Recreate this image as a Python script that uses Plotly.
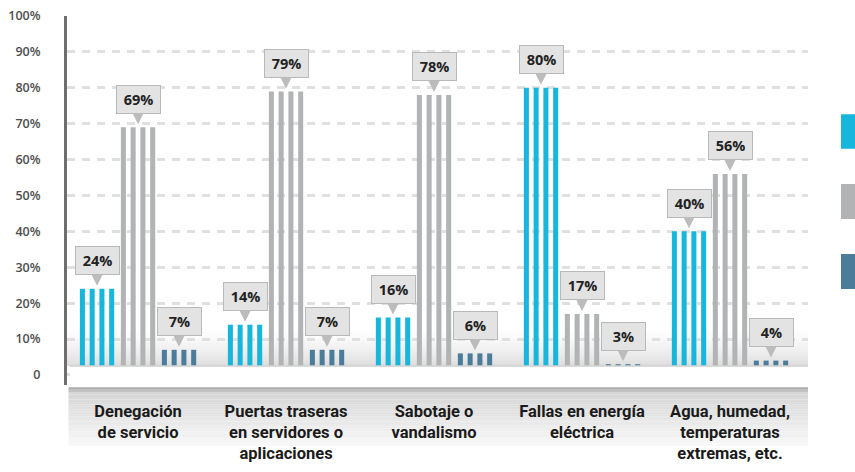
import plotly.graph_objects as go

# ---- data -------------------------------------------------------------
categories = [
    ["Denegación", "de servicio"],
    ["Puertas traseras", "en servidores o", "aplicaciones"],
    ["Sabotaje o", "vandalismo"],
    ["Fallas en energía", "eléctrica"],
    ["Agua, humedad,", "temperaturas", "extremas, etc."],
]
serie_1 = [24, 14, 16, 80, 40]
serie_2 = [69, 79, 78, 17, 56]
serie_3 = [7, 7, 6, 3, 4]

y_ticks = list(range(0, 101, 10))
y_tick_labels = ["0"] + [f"{v}%" for v in y_ticks[1:]]
major_ticks = list(range(20, 101, 20))

# ---- styling ----------------------------------------------------------
series = [serie_1, serie_2, serie_3]
colors = ["#17b6dd", "#b1b3b5", "#4b7d9b"]
cluster_gap = 0.277      # distance between the three clusters of a group
stripe_pitch = 0.066     # distance between the thin stripes of a cluster
stripe_width = 0.034
n_stripes = 4

Y_MIN, Y_MAX = -2.8, 100
FLOOR = 2.5              # bars appear to stand on this level

fig = go.Figure()

for s_idx, (values, color) in enumerate(zip(series, colors)):
    xs, ys = [], []
    for g_idx, v in enumerate(values):
        center = g_idx + (s_idx - 1) * cluster_gap
        for k in range(n_stripes):
            xs.append(center + (k - (n_stripes - 1) / 2) * stripe_pitch)
            ys.append(v)
    fig.add_trace(go.Bar(
        x=xs, y=ys, width=stripe_width,
        marker=dict(color=color, line=dict(width=0)),
        showlegend=False, hoverinfo="y",
    ))

# value callouts above every cluster
annotations = []
for s_idx, values in enumerate(series):
    for g_idx, v in enumerate(values):
        annotations.append(dict(
            x=g_idx + (s_idx - 1) * cluster_gap, y=v,
            xref="x", yref="y",
            text=f"{v}%",
            showarrow=True, ax=0, ay=-28,
            arrowhead=2, arrowsize=1, arrowwidth=2.2,
            arrowcolor="#bcbcbc", standoff=3,
            bgcolor="#e3e3e3", bordercolor="#b9b9b9", borderwidth=1,
            borderpad=4, width=35, height=19,
            font=dict(family="Open Sans", size=14.5, color="#222222", weight=700),
        ))

shapes = []

# soft grey floor behind the bars
n_steps = 14
for i in range(n_steps):
    y0 = FLOOR + i * 0.8
    shapes.append(dict(
        type="rect", xref="paper", yref="y",
        x0=0, x1=1, y0=y0, y1=y0 + 0.8,
        fillcolor="#c9c9c9", opacity=0.6 * (1 - i / n_steps) ** 1.6,
        line=dict(width=0), layer="below",
    ))

# white strip under the floor line
shapes.append(dict(
    type="rect", xref="paper", yref="y",
    x0=0.004, x1=1.0, y0=Y_MIN, y1=FLOOR,
    fillcolor="white", line=dict(width=0), layer="above",
))
shapes.append(dict(
    type="line", xref="paper", yref="y",
    x0=0.004, x1=1.0, y0=FLOOR, y1=FLOOR,
    line=dict(color="#d0d0d0", width=1.5), layer="above",
))

# grey band that holds the category names
band_top, band_bottom = -0.006, -0.165
n_band = 24
for i in range(n_band):
    t = i / n_band
    y1 = band_top + (band_bottom - band_top) * t
    y0 = band_top + (band_bottom - band_top) * (i + 1) / n_band
    if t < 0.08:
        g = 172 + (214 - 172) * t / 0.08
    else:
        g = 214 + (250 - 214) * (t - 0.08) / 0.92
    g = int(g)
    shapes.append(dict(
        type="rect", xref="paper", yref="paper",
        x0=0.002, x1=1.0, y0=y0, y1=y1,
        fillcolor=f"rgb({g},{g},{g})", line=dict(width=0), layer="below",
    ))

# colour keys on the right edge
key_rows = [(0.734, 0.640), (0.545, 0.450), (0.355, 0.260)]
for (y1, y0), color in zip(key_rows, colors):
    shapes.append(dict(
        type="rect", xref="paper", yref="paper",
        x0=1.0445, x1=1.2, y0=y0, y1=y1,
        fillcolor=color, line=dict(width=0), layer="above",
    ))

fig.update_layout(
    width=855, height=472,
    margin=dict(l=67, r=47, t=16, b=87),
    paper_bgcolor="white", plot_bgcolor="white",
    barmode="overlay",
    annotations=annotations,
    shapes=shapes,
    xaxis=dict(
        range=[-0.48, 4.527],
        tickvals=list(range(len(categories))),
        ticktext=["<br>".join(lines) for lines in categories],
        tickfont=dict(family="Roboto", size=16.5, color="#1a1a1a", weight=700),
        tickangle=0, automargin=False,
        ticks="", ticklabelstandoff=14,
        showline=False, showgrid=False, zeroline=False,
    ),
    yaxis=dict(
        range=[Y_MIN, Y_MAX], automargin=False,
        tickvals=y_ticks, ticktext=y_tick_labels,
        tickfont=dict(family="Open Sans", size=12.5, color="#4d4d4d", weight=600),
        ticks="outside", ticklen=18, tickwidth=2.5, tickcolor="rgba(0,0,0,0)",
        ticklabelstandoff=3,
        showline=True, linecolor="#6e6e6e", linewidth=3,
        showgrid=True, gridcolor="#e0e0e0", gridwidth=3, griddash="8px,7px",
        zeroline=False,
    ),
    yaxis2=dict(
        range=[Y_MIN, Y_MAX], overlaying="y", anchor="x", side="left",
        automargin=False,
        tickvals=major_ticks, showticklabels=False,
        ticks="outside", ticklen=18, tickwidth=2.5, tickcolor="#6e6e6e",
        showline=False, showgrid=False, zeroline=False,
    ),
)

fig.write_html("out.html")
